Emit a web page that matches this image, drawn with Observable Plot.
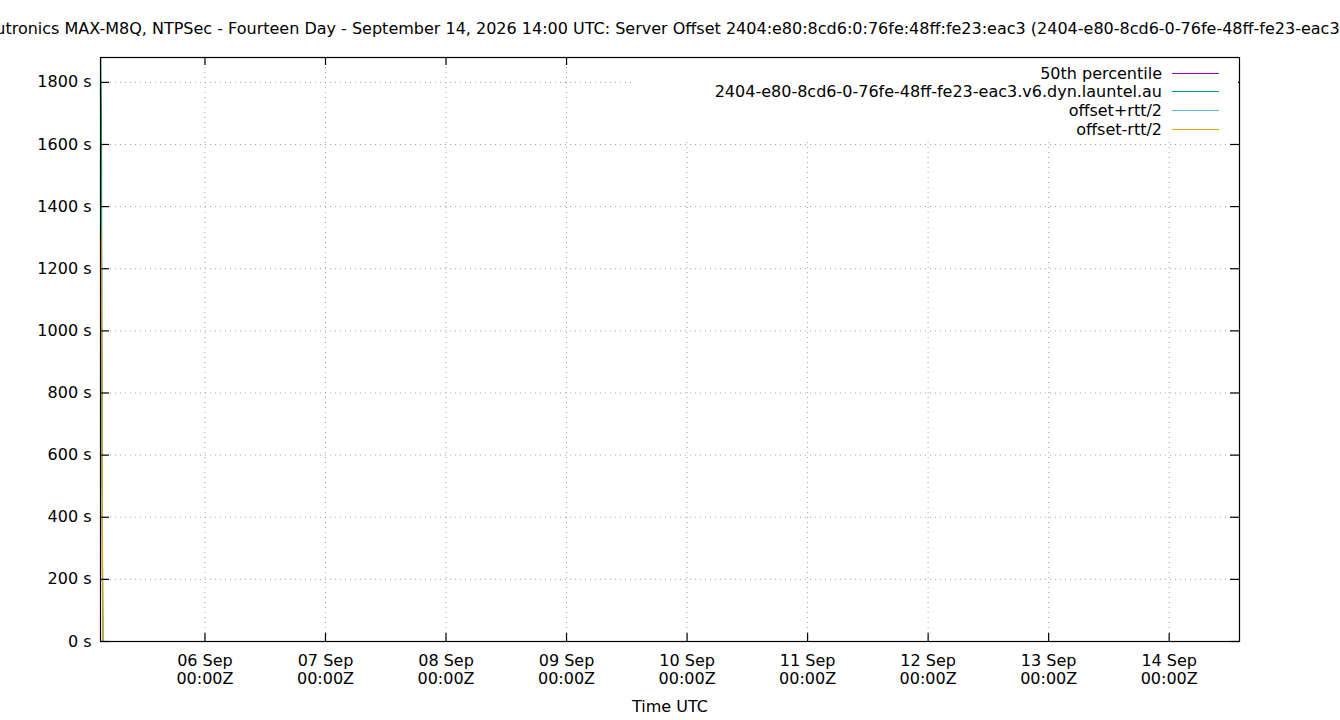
<!DOCTYPE html>
<html>
<head>
<meta charset="utf-8">
<script src="https://cdn.jsdelivr.net/npm/d3@7"></script>
<script src="https://cdn.jsdelivr.net/npm/@observablehq/plot@0.6"></script>
<style>
  html, body { margin: 0; padding: 0; background: #fff; overflow: hidden; }
  svg { font-family: "DejaVu Sans", sans-serif; }
</style>
</head>
<body>
<div id="chart"></div>
<script>
const titleText = "Uputronics MAX-M8Q, NTPSec - Fourteen Day - September 14, 2026 14:00 UTC: Server Offset 2404:e80:8cd6:0:76fe:48ff:fe23:eac3 (2404-e80-8cd6-0-76fe-48ff-fe23-eac3.v6.dyn.launtel.au)";
const xLabel = "Time UTC";

const domainStart = "2026-09-05T03:12Z";
const domainEnd = "2026-09-14T14:00Z";

const times = [
  "2026-09-05T03:12Z", "2026-09-05T03:18Z", "2026-09-05T03:24Z", "2026-09-05T03:30Z",
  "2026-09-05T03:36Z", "2026-09-05T03:42Z", "2026-09-05T12:00Z", "2026-09-06T00:00Z",
  "2026-09-07T00:00Z", "2026-09-08T00:00Z", "2026-09-09T00:00Z", "2026-09-10T00:00Z",
  "2026-09-11T00:00Z", "2026-09-12T00:00Z", "2026-09-13T00:00Z", "2026-09-14T00:00Z",
  "2026-09-14T14:00Z"
];
const p50Values    = [0, 0, 0, 0, 0, 0, 0, 0, 0, 0, 0, 0, 0, 0, 0, 0, 0];
const offsetValues = [1950, 1820, 1700, 900, 300, 0, 0, 0, 0, 0, 0, 0, 0, 0, 0, 0, 0];
const minusValues  = [1340, 1300, 1250, 700, 150, 0, 0, 0, 0, 0, 0, 0, 0, 0, 0, 0, 0];
const plusValues   = [1050, 980, 900, 600, 200, 0, 0, 0, 0, 0, 0, 0, 0, 0, 0, 0, 0];

const seriesNames = ["50th percentile", "2404-e80-8cd6-0-76fe-48ff-fe23-eac3.v6.dyn.launtel.au", "offset+rtt/2", "offset-rtt/2"];
const seriesColors = ["#9400d3", "#009e73", "#56b4e9", "#e69f00"];

const yTicks = [0, 200, 400, 600, 800, 1000, 1200, 1400, 1600, 1800];
const xTicks = ["2026-09-06", "2026-09-07", "2026-09-08", "2026-09-09", "2026-09-10",
                "2026-09-11", "2026-09-12", "2026-09-13", "2026-09-14"];
const xTickTime = "00:00Z";
const yMax = 1880;

const parse = s => new Date(s);
const mk = vals => times.map((t, i) => ({t: parse(t), v: vals[i]}));
const xTickDates = xTicks.map(d => new Date(d + "T00:00Z"));
const fmtDay = d3.utcFormat("%d %b");

const W = 1340, H = 720;
const mL = 100, mR = 101, mT = 57, mB = 79;
const fw = W - mL - mR, fh = H - mT - mB;

const plot = Plot.plot({
  width: W, height: H,
  marginLeft: mL, marginRight: mR, marginTop: mT, marginBottom: mB,
  style: {fontFamily: "DejaVu Sans, sans-serif", fontSize: "16px", color: "black", background: "white", overflow: "visible"},
  x: {type: "utc", domain: [parse(domainStart), parse(domainEnd)]},
  y: {domain: [0, yMax]},
  marks: [
    Plot.gridY(yTicks, {stroke: "#a0a0a0", strokeOpacity: 1, strokeDasharray: "1,4"}),
    Plot.gridX(xTickDates, {stroke: "#a0a0a0", strokeOpacity: 1, strokeDasharray: "1,4"}),
    Plot.line(mk(p50Values), {x: "t", y: "v", stroke: seriesColors[0], strokeWidth: 1, clip: true}),
    Plot.line(mk(offsetValues), {x: "t", y: "v", stroke: seriesColors[1], strokeWidth: 1, clip: true}),
    Plot.line(mk(plusValues), {x: "t", y: "v", stroke: seriesColors[2], strokeWidth: 1.2, clip: true}),
    Plot.line(mk(minusValues), {x: "t", y: "v", stroke: seriesColors[3], strokeWidth: 1.2, clip: true}),
    Plot.axisY(yTicks, {anchor: "left", tickSize: 0, tickPadding: 9, tickFormat: d => d + " s", label: null, fontSize: 16}),
    Plot.axisX(xTickDates, {anchor: "bottom", tickSize: 0, tickPadding: 12, lineHeight: 1.125,
      tickFormat: d => fmtDay(d) + "\n" + xTickTime, label: null, fontSize: 16}),
    Plot.tickY(yTicks, {y: d => d, insetRight: fw - 9, stroke: "black", strokeWidth: 1.2}),
    Plot.tickY(yTicks, {y: d => d, insetLeft: fw - 9, stroke: "black", strokeWidth: 1.2}),
    Plot.tickX(xTickDates, {x: d => d, insetTop: fh - 8, stroke: "black", strokeWidth: 1.2}),
    Plot.tickX(xTickDates, {x: d => d, insetBottom: fh - 8, stroke: "black", strokeWidth: 1.2}),
    Plot.text([xLabel], {text: d => d, frameAnchor: "bottom", dy: 70, fontSize: 16, fill: "black"}),
    Plot.text([titleText], {text: d => d, frameAnchor: "top", dy: -35, dx: 62, fontSize: 16, fill: "black"}),
  ]
});

document.getElementById("chart").appendChild(plot);

// Legend (gnuplot style, opaque key box at top right)
const svg = d3.select(plot);
const key = svg.append("g");
key.append("rect").attr("x", 631).attr("y", mT + 1).attr("width", W - mR - 632).attr("height", 83).attr("fill", "white");
const rowY = [73.5, 91.5, 110.5, 129.5];
seriesNames.forEach((name, i) => {
  key.append("text").attr("x", 1162).attr("y", rowY[i]).attr("dy", "0.35em")
    .attr("text-anchor", "end").attr("font-size", 16).attr("fill", "black").text(name);
  key.append("line").attr("x1", 1172).attr("x2", 1219).attr("y1", rowY[i]).attr("y2", rowY[i])
    .attr("stroke", seriesColors[i]).attr("stroke-width", 1.2);
});
// frame on top
svg.append("rect").attr("x", mL + 0.5).attr("y", mT + 0.5).attr("width", fw).attr("height", fh)
  .attr("fill", "none").attr("stroke", "black").attr("stroke-width", 1.2);
</script>
</body>
</html>
